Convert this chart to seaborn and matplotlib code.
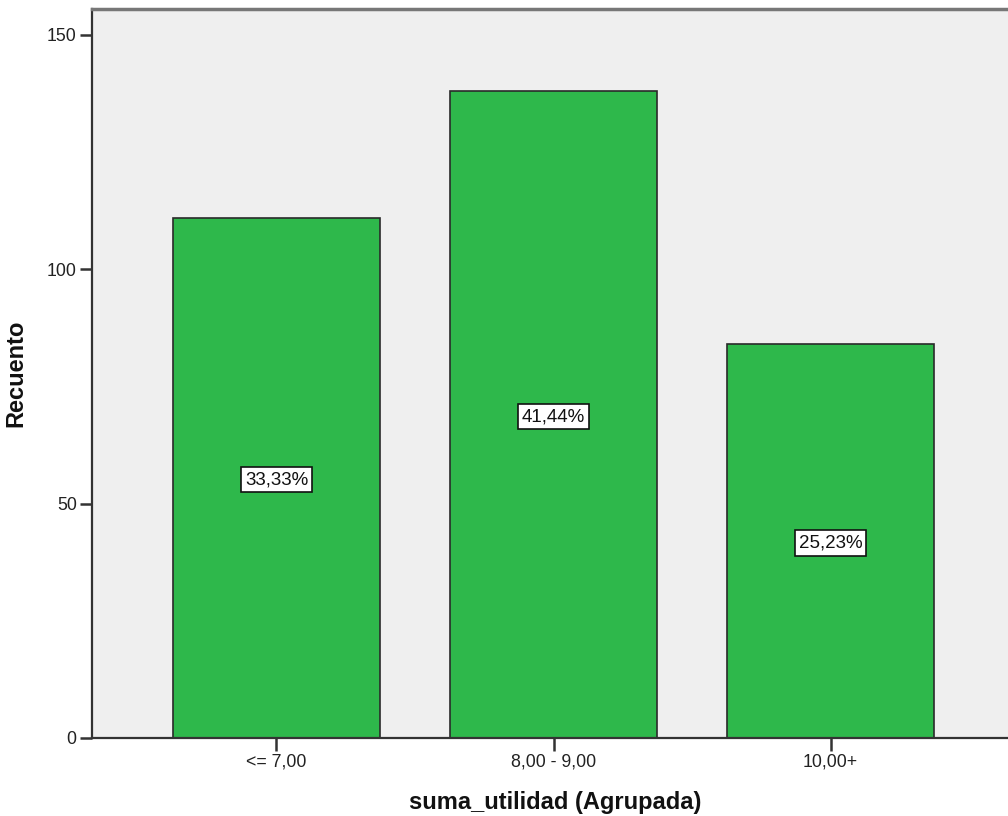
import matplotlib
matplotlib.use("Agg")
import matplotlib.pyplot as plt
import seaborn as sns
import pandas as pd

# Grouped counts of suma_utilidad
categories = ["<= 7,00", "8,00 - 9,00", "10,00+"]
counts = [111, 138, 84]
pct_labels = ["33,33%", "41,44%", "25,23%"]
y_ticks = [0, 50, 100, 150]

df = pd.DataFrame({"grupo": categories, "recuento": counts})

sns.set_style("white")
plt.rcParams["font.family"] = ["Liberation Sans", "DejaVu Sans"]

fig = plt.figure(figsize=(10.08, 8.16), dpi=100)
ax = fig.add_axes([92 / 1008, 1 - 738 / 816, 1 - 92 / 1008 + 0.01, (738 - 9) / 816])
ax.set_facecolor("#efefef")

sns.barplot(data=df, x="grupo", y="recuento", order=categories, color="#2eb84b",
            saturation=1, width=0.747, edgecolor="#2a2a2a", linewidth=1.2, ax=ax)

for i, (c, lab) in enumerate(zip(counts, pct_labels)):
    ax.text(i, c / 2, lab, ha="center", va="center_baseline", fontsize=13.5, color="#111111",
            bbox=dict(boxstyle="square,pad=0.22", facecolor="white", edgecolor="#111111", linewidth=1.2))

ax.set_xlim(-0.666, 2.677)
ax.set_ylim(0, 155.5)
ax.set_yticks(y_ticks)
ax.set_yticklabels([str(t) for t in y_ticks])

ax.tick_params(axis="both", which="major", direction="out", length=9, width=1.8,
               color="#333333", labelsize=12.8, labelcolor="#222222", pad=2, left=True, bottom=True)

for side in ["left", "bottom"]:
    ax.spines[side].set_color("#333333")
    ax.spines[side].set_linewidth(1.6)
ax.spines["top"].set_color("#777777")
ax.spines["top"].set_linewidth(2.5)
ax.spines["right"].set_visible(False)

ax.set_xlabel("suma_utilidad (Agrupada)", fontsize=17, fontweight="bold", labelpad=15, color="#111111")
ax.set_ylabel("Recuento", fontsize=17, fontweight="bold", labelpad=14, color="#111111")

fig.savefig("out.png", dpi=100, facecolor="white")
